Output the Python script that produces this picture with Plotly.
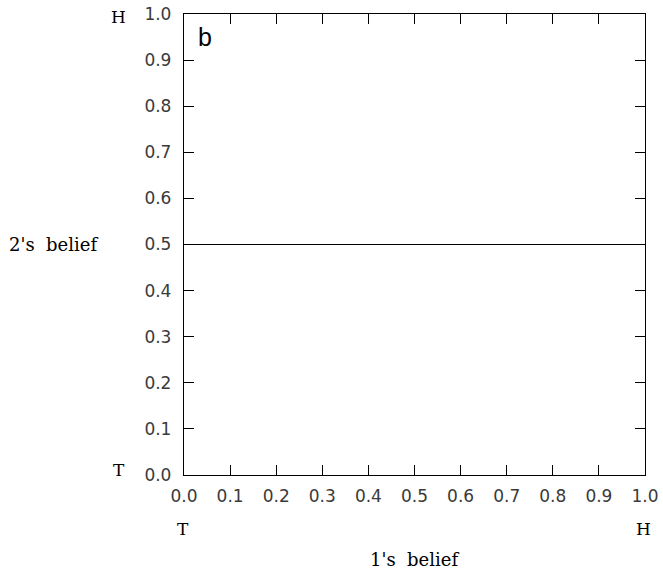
import plotly.graph_objects as go

x_vals = [0.0, 1.0]
y_vals = [0.5, 0.5]
tick_vals = [0.0, 0.1, 0.2, 0.3, 0.4, 0.5, 0.6, 0.7, 0.8, 0.9, 1.0]
tick_text = ["0.0", "0.1", "0.2", "0.3", "0.4", "0.5", "0.6", "0.7", "0.8", "0.9", "1.0"]

fig = go.Figure()
fig.add_trace(go.Scatter(x=x_vals, y=y_vals, mode="lines",
                         line=dict(color="black", width=1), showlegend=False,
                         hoverinfo="skip"))

axis_common = dict(range=[0, 1], tickvals=tick_vals, ticktext=tick_text,
                   ticks="inside", ticklen=10, tickwidth=1, tickcolor="black",
                   showline=True, linecolor="black", linewidth=1.3, mirror="ticks",
                   showgrid=False, zeroline=False, automargin=False,
                   tickfont=dict(family="DejaVu Sans", size=17, color="#3a3a3a"))

fig.update_xaxes(ticklabelstandoff=5, **axis_common)
fig.update_yaxes(ticklabelstandoff=8, **axis_common)

serif = dict(family="DejaVu Serif", size=17, color="black")
serif_lbl = dict(family="DejaVu Serif", size=18, color="black")
anns = [
    dict(text="b", x=0.026, y=0.951, xanchor="left", yanchor="middle",
         font=dict(family="Liberation Sans", size=25, color="black")),
    dict(text="H", x=-0.141, y=0.993, xanchor="center", yanchor="middle", font=serif),
    dict(text="T", x=-0.141, y=0.011, xanchor="center", yanchor="middle", font=serif),
    dict(text="2's  belief", x=-0.384, y=0.5, xanchor="left", yanchor="middle", font=serif_lbl),
    dict(text="T", x=-0.002, y=-0.117, xanchor="center", yanchor="middle", font=serif),
    dict(text="H", x=0.996, y=-0.117, xanchor="center", yanchor="middle", font=serif),
    dict(text="1's  belief", x=0.5, y=-0.184, xanchor="center", yanchor="middle", font=serif_lbl),
]
for a in anns:
    a["showarrow"] = False
    a["xref"] = "paper"
    a["yref"] = "paper"
    fig.add_annotation(**a)

fig.update_layout(width=663, height=576, margin=dict(l=184, r=18, t=14, b=101),
                  plot_bgcolor="white", paper_bgcolor="white", hovermode=False)

fig.write_html("out.html", config={"displayModeBar": False},
               post_script="document.body.style.margin='0';")
